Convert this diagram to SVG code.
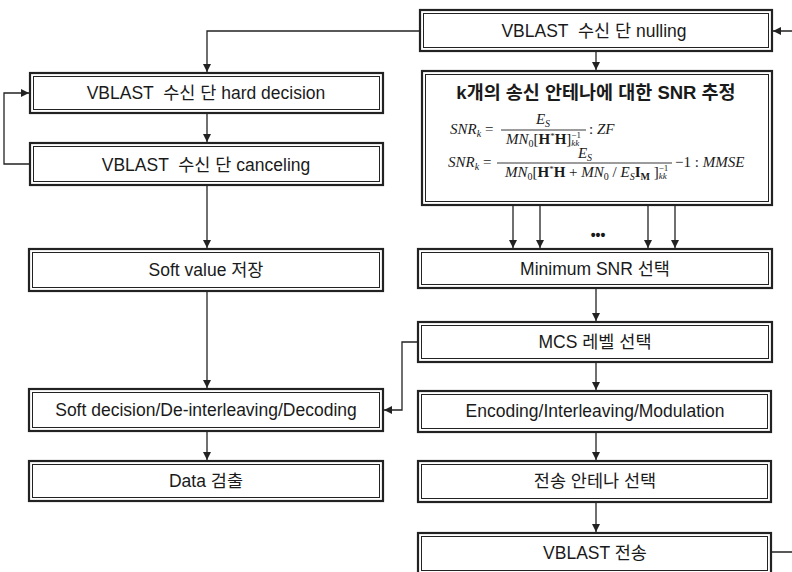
<svg xmlns="http://www.w3.org/2000/svg" width="792" height="572" viewBox="0 0 792 572">
<defs>
<style>
.o{fill:#fff;stroke:#222;stroke-width:2.2}
.i{fill:none;stroke:#222;stroke-width:1}
.t{font-family:"Liberation Sans","Noto Sans CJK KR",sans-serif;font-size:17.5px;fill:#1a1a1a;text-anchor:middle;dominant-baseline:central;white-space:pre}
.b{font-weight:bold}
.m{font-family:"Liberation Serif",serif;font-size:15px;fill:#1a1a1a;white-space:pre}
.s{font-size:10px}
.ss{font-size:9px}
.it{font-style:italic}
.c{fill:none;stroke:#222;stroke-width:1.3}
</style>
<marker id="a" viewBox="0 0 10 10" refX="10" refY="5" markerWidth="8" markerHeight="8" markerUnits="userSpaceOnUse" orient="auto">
<path d="M0,0 L10,5 L0,10 Z" fill="#222"/>
</marker>
</defs>
<rect width="792" height="572" fill="#fff"/>

<g id="connectors">
<path class="c" d="M420,31 H207 V72" marker-end="url(#a)"/>
<path class="c" d="M596,51 V70" marker-end="url(#a)"/>
<path class="c" d="M771,552 H796 V31 H773" marker-end="url(#a)"/>
<path class="c" d="M30,164 H4 V93 H29" marker-end="url(#a)"/>
<path class="c" d="M207,113 V142" marker-end="url(#a)"/>
<path class="c" d="M207,185 V248" marker-end="url(#a)"/>
<path class="c" d="M207,291 V388" marker-end="url(#a)"/>
<path class="c" d="M207,431 V460" marker-end="url(#a)"/>
<path class="c" d="M513,205 V248" marker-end="url(#a)"/>
<path class="c" d="M540,205 V248" marker-end="url(#a)"/>
<path class="c" d="M648,205 V248" marker-end="url(#a)"/>
<path class="c" d="M675,205 V248" marker-end="url(#a)"/>
<path class="c" d="M596,288 V321" marker-end="url(#a)"/>
<path class="c" d="M596,362 V390" marker-end="url(#a)"/>
<path class="c" d="M596,432 V460" marker-end="url(#a)"/>
<path class="c" d="M596,502 V532" marker-end="url(#a)"/>
<path class="c" d="M418,342 H402 V410 H384" marker-end="url(#a)"/>
<text x="598" y="235" class="t b" style="font-size:14px">•••</text>
</g>

<g id="nulling">
<rect class="o" x="420" y="10" width="352" height="41"/><rect class="i" x="423.5" y="13.5" width="345" height="34"/>
<text class="t" x="594" y="31">VBLAST  수신 단 nulling</text>
</g>

<g id="snr">
<rect class="o" x="422" y="71" width="350" height="134"/><rect class="i" x="425.5" y="74.5" width="343" height="127"/>
<text class="t b" x="596" y="92" style="font-size:18.5px">k개의 송신 안테나에 대한 SNR 추정</text>
<text class="m" x="450" y="134"><tspan class="it">SNR</tspan><tspan class="s it" dy="3">k</tspan><tspan dy="-3"> =</tspan></text>
<line x1="501" y1="130" x2="586" y2="130" stroke="#222" stroke-width="0.9"/>
<text class="m" x="543" y="124" text-anchor="middle"><tspan class="it">E</tspan><tspan class="s it" dy="3">S</tspan></text>
<text class="m" x="506" y="144"><tspan class="it">MN</tspan><tspan class="s" dy="3">0</tspan><tspan dy="-3">[</tspan><tspan class="b">H</tspan><tspan class="ss" dy="-5">*</tspan><tspan class="b" dy="5">H</tspan>]<tspan class="ss" dy="-6">−1</tspan><tspan class="ss it" dx="-9.6" dy="8">kk</tspan></text>
<text class="m" x="589" y="134">: <tspan class="it">ZF</tspan></text>

<text class="m" x="448" y="167"><tspan class="it">SNR</tspan><tspan class="s it" dy="3">k</tspan><tspan dy="-3"> =</tspan></text>
<line x1="497" y1="163" x2="672" y2="163" stroke="#222" stroke-width="0.9"/>
<text class="m" x="585" y="158" text-anchor="middle"><tspan class="it">E</tspan><tspan class="s it" dy="3">S</tspan></text>
<text class="m" x="505" y="177"><tspan class="it">MN</tspan><tspan class="s" dy="3">0</tspan><tspan dy="-3">[</tspan><tspan class="b">H</tspan><tspan class="ss" dy="-5">*</tspan><tspan class="b" dy="5">H</tspan> + <tspan class="it">MN</tspan><tspan class="s" dy="3">0</tspan><tspan dy="-3"> / </tspan><tspan class="it">E</tspan><tspan class="s it" dy="3">S</tspan><tspan class="b" dy="-3">I</tspan><tspan class="s b" dy="3">M</tspan><tspan dy="-3"> ]</tspan><tspan class="ss" dy="-6">−1</tspan><tspan class="ss it" dx="-9.6" dy="8">kk</tspan></text>
<text class="m" x="675" y="167">−1 : <tspan class="it">MMSE</tspan></text>
</g>

<g id="minsnr">
<rect class="o" x="418" y="249" width="354" height="39"/><rect class="i" x="421.5" y="252.5" width="347" height="32"/>
<text class="t" x="595" y="269">Minimum SNR 선택</text>
</g>
<g id="mcs">
<rect class="o" x="418" y="322" width="354" height="40"/><rect class="i" x="421.5" y="325.5" width="347" height="33"/>
<text class="t" x="595" y="342">MCS 레벨 선택</text>
</g>
<g id="encoding">
<rect class="o" x="418" y="391" width="353" height="41"/><rect class="i" x="421.5" y="394.5" width="346" height="34"/>
<text class="t" x="595" y="411">Encoding/Interleaving/Modulation</text>
</g>
<g id="antsel">
<rect class="o" x="418" y="461" width="353" height="41"/><rect class="i" x="421.5" y="464.5" width="346" height="34"/>
<text class="t" x="595" y="481">전송 안테나 선택</text>
</g>
<g id="vtx">
<rect class="o" x="418" y="533" width="353" height="41"/><rect class="i" x="421.5" y="536.5" width="346" height="34"/>
<text class="t" x="595" y="553">VBLAST 전송</text>
</g>

<g id="hard">
<rect class="o" x="30" y="73" width="353" height="40"/><rect class="i" x="33.5" y="76.5" width="346" height="33"/>
<text class="t" x="206" y="93">VBLAST  수신 단 hard decision</text>
</g>
<g id="cancel">
<rect class="o" x="30" y="143" width="353" height="42"/><rect class="i" x="33.5" y="146.5" width="346" height="35"/>
<text class="t" x="206" y="165">VBLAST  수신 단 canceling</text>
</g>
<g id="softval">
<rect class="o" x="29" y="249" width="354" height="42"/><rect class="i" x="32.5" y="252.5" width="347" height="35"/>
<text class="t" x="206" y="270">Soft value 저장</text>
</g>
<g id="softdec">
<rect class="o" x="29" y="389" width="354" height="42"/><rect class="i" x="32.5" y="392.5" width="347" height="35"/>
<text class="t" x="206" y="410">Soft decision/De-interleaving/Decoding</text>
</g>
<g id="data">
<rect class="o" x="29" y="461" width="354" height="40"/><rect class="i" x="32.5" y="464.5" width="347" height="33"/>
<text class="t" x="206" y="481">Data 검출</text>
</g>
</svg>
